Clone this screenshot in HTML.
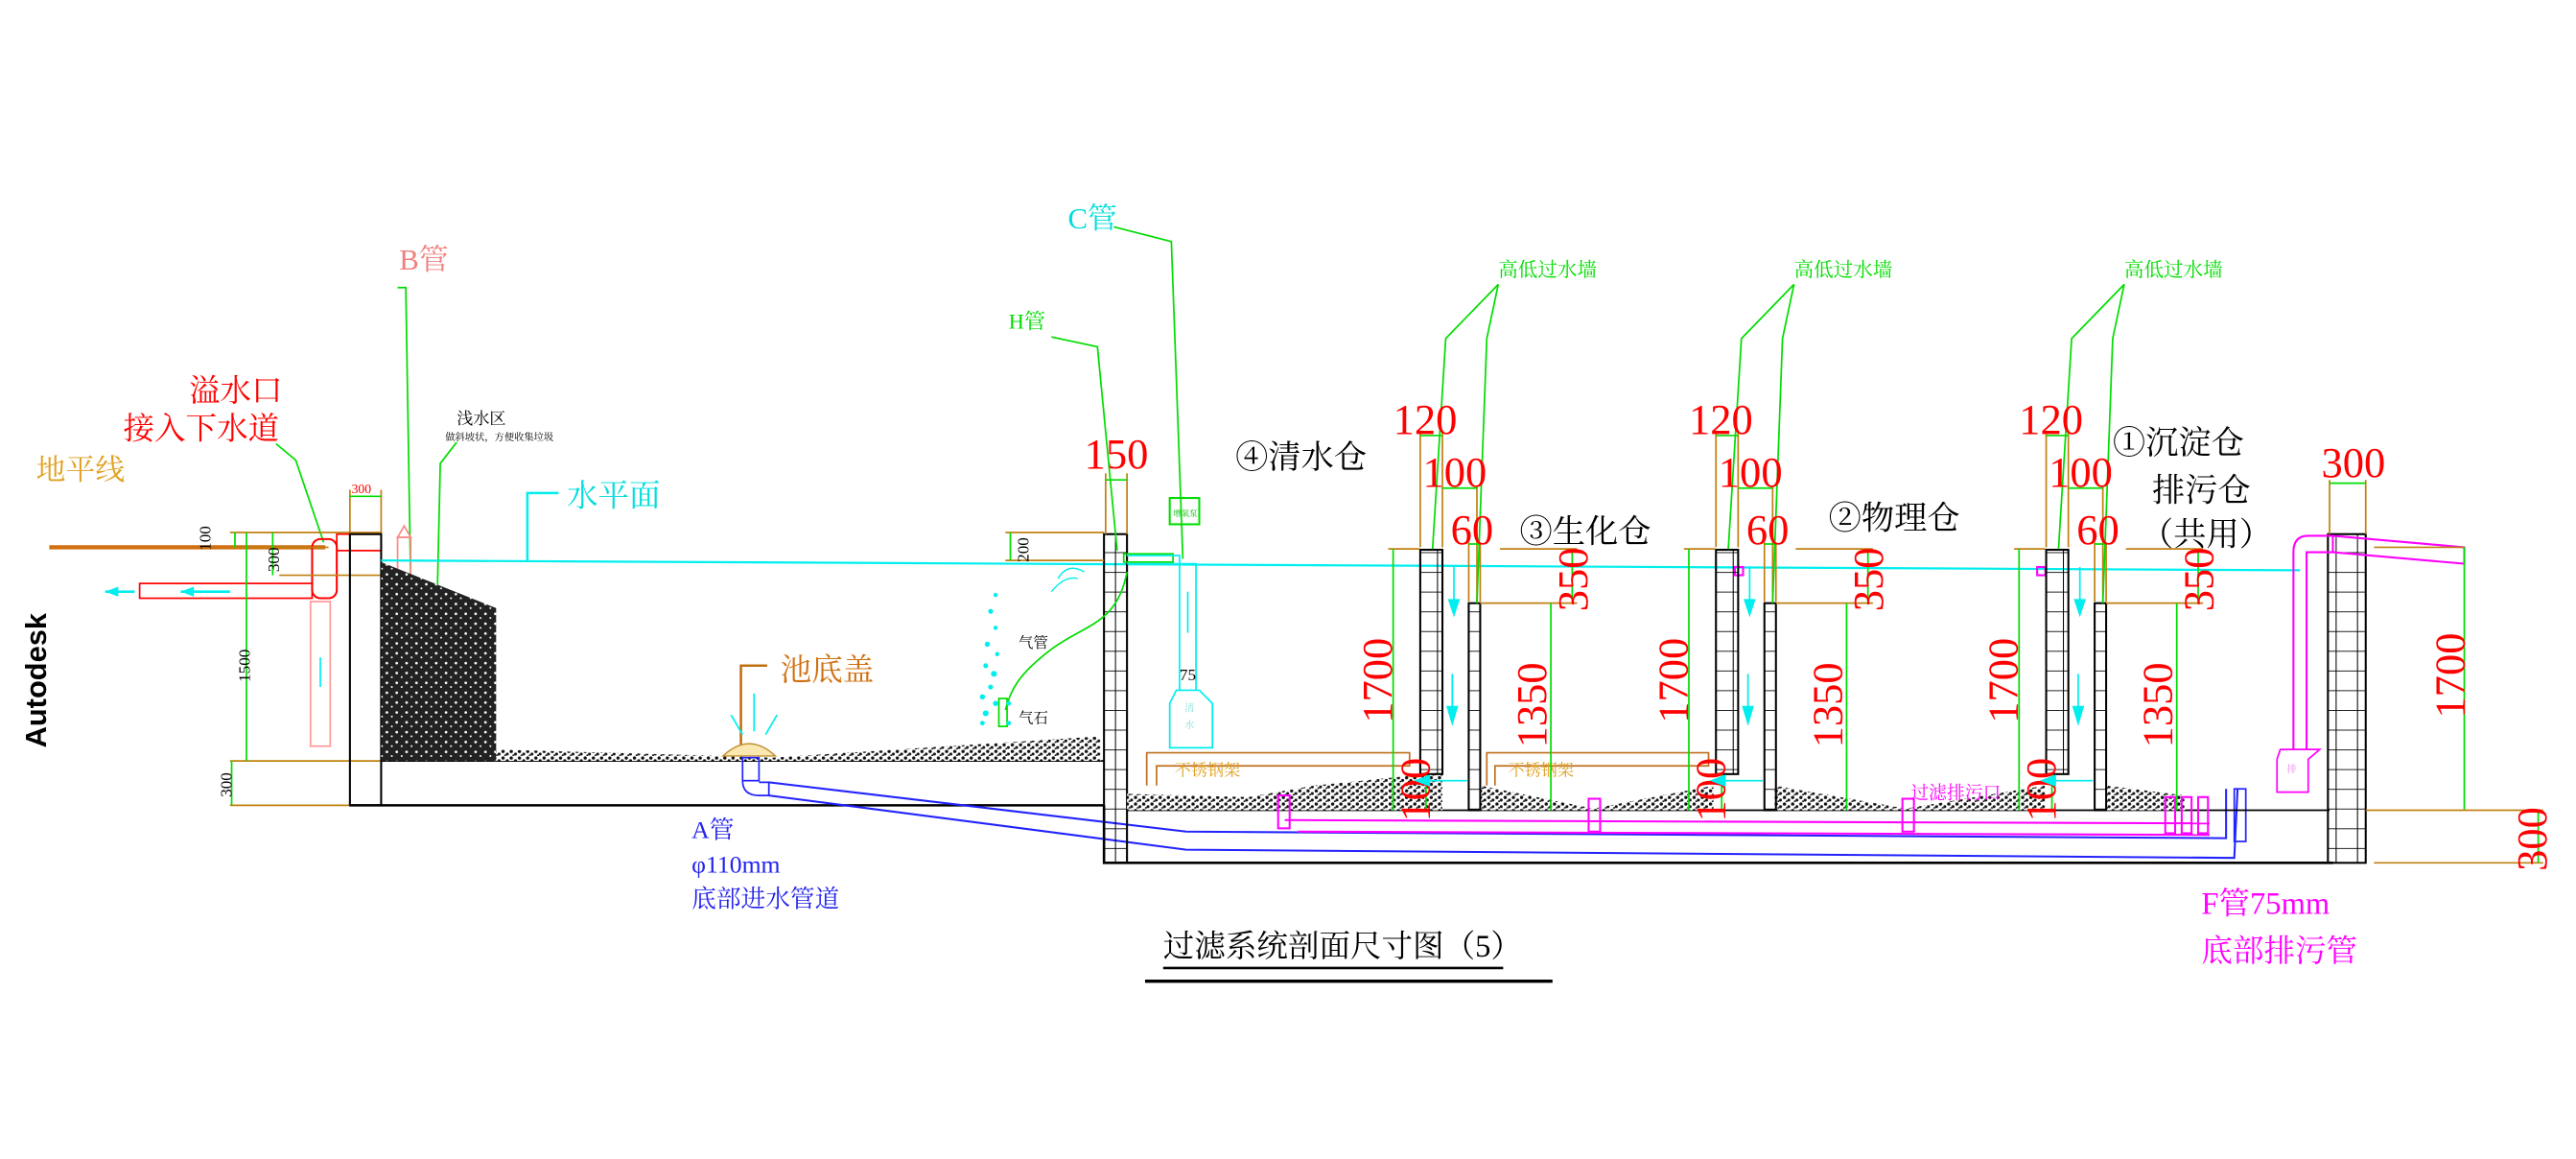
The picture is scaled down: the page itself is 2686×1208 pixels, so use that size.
<!DOCTYPE html>
<html><head><meta charset="utf-8"><style>
html,body{margin:0;padding:0;background:#fff;}
svg{display:block;}
text{font-family:"Liberation Serif","Noto Serif CJK SC",serif;}
.num{font-family:"Liberation Serif",serif;fill:#f00;font-size:26px;}
</style></head><body>
<svg width="2686" height="1208" viewBox="0 0 1568 705.2" preserveAspectRatio="none" xmlns="http://www.w3.org/2000/svg">
<defs>
<pattern id="grv" width="6" height="6" patternUnits="userSpaceOnUse">
<rect width="6" height="6" fill="#222"/><circle cx="1.5" cy="1.5" r="0.8" fill="#fff"/><circle cx="4.5" cy="4" r="0.6" fill="#fff"/>
</pattern>
<pattern id="grv2" width="5" height="4" patternUnits="userSpaceOnUse">
<rect width="5" height="4" fill="#fff"/><circle cx="1.2" cy="1.2" r="1" fill="#111"/><circle cx="3.8" cy="2.8" r="0.9" fill="#111"/><circle cx="2.5" cy="3.6" r="0.6" fill="#111"/>
</pattern>
<pattern id="brk" width="30" height="12" patternUnits="userSpaceOnUse">
<line x1="0" y1="0" x2="30" y2="0" stroke="#000" stroke-width="1"/>
</pattern>
</defs>

<text transform="translate(28,455) rotate(-90)" font-weight="bold" font-size="18" fill="#000" style="font-family:'Liberation Sans',sans-serif">Autodesk</text>

<text x="22" y="292" font-size="18" fill="#e0a020">地平线</text>
<line x1="30" y1="333" x2="198" y2="333" stroke="#d07010" stroke-width="2.5"/>
<text x="115" y="244" font-size="19" fill="#f00">溢水口</text>
<text x="75" y="267" font-size="19" fill="#f00">接入下水道</text>
<polyline points="168,270 180,280 197,330" fill="none" stroke="#0d0" stroke-width="1"/>

<rect x="85" y="355" width="105" height="9" fill="none" stroke="#f00" stroke-width="1"/>
<line x1="64" y1="360" x2="82" y2="360" stroke="#0ee" stroke-width="1.5"/><polygon points="64,360 72,357 72,363" fill="#0ee"/>
<line x1="110" y1="360" x2="140" y2="360" stroke="#0ee" stroke-width="1.5"/><polygon points="110,360 118,357 118,363" fill="#0ee"/>
<rect x="190" y="328" width="15" height="36" rx="5" fill="none" stroke="#f00" stroke-width="1.2"/>
<rect x="205" y="325" width="27" height="10" fill="none" stroke="#f00" stroke-width="1"/>
<rect x="189" y="366" width="12" height="88" fill="none" stroke="#f99" stroke-width="1"/>
<line x1="195" y1="400" x2="195" y2="418" stroke="#0ee"/>

<g stroke="#c08010" stroke-width="1">
<line x1="140" y1="324" x2="232" y2="324"/><line x1="140" y1="333" x2="200" y2="333"/>
<line x1="170" y1="350" x2="232" y2="350"/><line x1="140" y1="463" x2="232" y2="463"/>
<line x1="140" y1="490" x2="213" y2="490"/>
<line x1="213" y1="298" x2="213" y2="325"/><line x1="232" y1="298" x2="232" y2="325"/>
</g>
<g stroke="#0d0" stroke-width="1">
<line x1="150" y1="324" x2="150" y2="463"/><line x1="141" y1="463" x2="141" y2="490"/>
<line x1="166" y1="324" x2="166" y2="350"/><line x1="143" y1="324" x2="143" y2="333"/>
<line x1="213" y1="302" x2="232" y2="302"/>
</g>
<text transform="translate(128,335) rotate(-90)" font-size="10" fill="#000">100</text>
<text transform="translate(170,348) rotate(-90)" font-size="10" fill="#000">300</text>
<text transform="translate(152,415) rotate(-90)" font-size="10" fill="#000">1500</text>
<text transform="translate(141,485) rotate(-90)" font-size="10" fill="#000">300</text>
<text x="214" y="300" font-size="8" fill="#f00">300</text>

<text x="243" y="164" font-size="18" fill="#f08080">B管</text>
<polyline points="242,175 247,175 250,355" fill="none" stroke="#0d0" stroke-width="1"/>
<rect x="242" y="327" width="8" height="30" fill="none" stroke="#f88" stroke-width="1"/>
<polygon points="242,327 246,320 250,327" fill="none" stroke="#f88"/>
<text x="278" y="258" font-size="10" fill="#000">浅水区</text>
<text x="271" y="268" font-size="6" fill="#000">做斜坡状，方便收集垃圾</text>
<polyline points="278,269 268,282 266,370" fill="none" stroke="#0d0" stroke-width="1"/>

<rect x="213" y="325" width="19" height="165" fill="none" stroke="#000" stroke-width="1.2"/>
<line x1="232" y1="463" x2="672" y2="463" stroke="#000" stroke-width="1"/>
<line x1="213" y1="490" x2="672" y2="490" stroke="#000" stroke-width="1.5"/>
<polygon points="232,342 302,370 302,463 232,463" fill="url(#grv)"/>
<polygon points="302,456 440,460 470,461 670,448 670,463 302,463" fill="url(#grv2)"/>

<line x1="232" y1="341" x2="1400" y2="347" stroke="#0ee" stroke-width="1.3"/>
<text x="345" y="308" font-size="19" fill="#0dd">水平面</text>
<polyline points="340,300 321,300 321,341" fill="none" stroke="#0ee" stroke-width="1.5"/>

<text x="475" y="414" font-size="19" fill="#d07010">池底盖</text>
<polyline points="467,405 451,405 451,455" fill="none" stroke="#c07010" stroke-width="1.5"/>
<path d="M440,460 Q456,445 472,460 Z" fill="#fbe7b0" stroke="#c09030" stroke-width="0.8"/>
<line x1="459" y1="422" x2="459" y2="445" stroke="#0ee"/>
<line x1="445" y1="435" x2="452" y2="447" stroke="#0ee"/>
<line x1="473" y1="435" x2="466" y2="447" stroke="#0ee"/>

<rect x="452" y="461" width="10" height="14" fill="none" stroke="#22f"/>
<path d="M452,475 Q452,484 462,484 L468,484 L468,476 L462,476" fill="none" stroke="#22f"/>
<polyline points="468,476 722,506 1355,510 1355,480" fill="none" stroke="#22f" stroke-width="1.2"/>
<polyline points="468,484 722,517 1360,522 1362,480" fill="none" stroke="#22f" stroke-width="1.2"/>
<rect x="1360" y="480" width="7" height="32" fill="none" stroke="#22f"/>
<text x="421" y="510" font-size="15" fill="#22e">A管</text>
<text x="421" y="531" font-size="15" fill="#22e">φ110mm</text>
<text x="421" y="552" font-size="15" fill="#22e">底部进水管道</text>

<polyline points="672,490 672,525 1420,525" fill="none" stroke="#000" stroke-width="1.5"/>
<line x1="686" y1="493" x2="1418" y2="493" stroke="#000" stroke-width="1"/>
<rect x="672" y="325" width="14" height="200" fill="url(#brk)" stroke="#000" stroke-width="1.2"/>
<line x1="679" y1="325" x2="679" y2="525" stroke="#000" stroke-width="0.6"/>
<rect x="1417" y="325" width="23" height="200" fill="url(#brk)" stroke="#000" stroke-width="1.2"/>
<line x1="1422" y1="325" x2="1422" y2="525" stroke="#000" stroke-width="0.6"/>
<line x1="1435" y1="325" x2="1435" y2="525" stroke="#000" stroke-width="0.6"/>

<line x1="612" y1="324" x2="672" y2="324" stroke="#c08010"/>
<line x1="612" y1="341" x2="672" y2="341" stroke="#c08010"/>
<line x1="615" y1="324" x2="615" y2="341" stroke="#0d0"/>
<text transform="translate(626,342) rotate(-90)" font-size="10" fill="#000">200</text>
<text x="660" y="285" class="num">150</text>
<line x1="673" y1="288" x2="673" y2="325" stroke="#c08010"/><line x1="686" y1="288" x2="686" y2="325" stroke="#c08010"/>
<line x1="673" y1="292" x2="686" y2="292" stroke="#0d0"/>

<text x="614" y="200" font-size="13" fill="#0d0">H管</text>
<polyline points="640,205 668,211 680,335" fill="none" stroke="#0d0" stroke-width="1"/>
<path d="M686,348 C680,380 660,380 640,395 C620,410 615,420 612,432" fill="none" stroke="#0d0" stroke-width="1"/>
<rect x="684" y="337" width="30" height="5" fill="none" stroke="#0d0"/>
<rect x="608" y="425" width="5" height="17" fill="none" stroke="#0d0"/>
<g fill="#0ee">
<circle cx="606" cy="362" r="1.3"/><circle cx="603" cy="372" r="1.5"/><circle cx="606" cy="382" r="1.3"/><circle cx="601" cy="392" r="1.6"/><circle cx="607" cy="398" r="1.3"/><circle cx="600" cy="405" r="1.5"/><circle cx="605" cy="410" r="1.8"/><circle cx="603" cy="418" r="1.5"/><circle cx="598" cy="424" r="1.6"/><circle cx="606" cy="428" r="1.6"/><circle cx="600" cy="434" r="1.8"/><circle cx="614" cy="428" r="1.4"/><circle cx="614" cy="440" r="1.4"/><circle cx="598" cy="440" r="1.4"/>
</g>
<text x="620" y="394" font-size="9" fill="#000">气管</text>
<text x="620" y="440" font-size="9" fill="#000">气石</text>
<path d="M660,348 Q650,342 644,352 M656,352 Q648,350 640,360" fill="none" stroke="#0ee" stroke-width="0.8"/>

<text x="650" y="139" font-size="18" fill="#0dd">C管</text>
<polyline points="678,138 713,147 720,340" fill="none" stroke="#0d0" stroke-width="1"/>
<rect x="712" y="303" width="18" height="16" fill="none" stroke="#0d0" stroke-width="1.2"/>
<text x="714" y="314" font-size="5" fill="#0b0">增氧泵</text>
<polyline points="686,338 718,338 718,420" fill="none" stroke="#0ee"/>
<polyline points="686,343 728,343 728,420" fill="none" stroke="#0ee"/>
<line x1="723" y1="360" x2="723" y2="385" stroke="#0ee"/>
<text x="718" y="414" font-size="10" fill="#000">75</text>
<path d="M716,420 L730,420 L738,428 L738,455 L712,455 L712,428 Z" fill="none" stroke="#0ee"/>
<text x="721" y="433" font-size="6" fill="#8dd">清</text><text x="721" y="443" font-size="6" fill="#8dd">水</text>

<g fill="none" stroke="#c07020" stroke-width="1">
<polyline points="698,478 698,458 858,458 858,466 704,466 704,478"/>
<polyline points="905,478 905,458 1040,458 1040,466 910,466 910,478"/>
</g>
<text x="715" y="472" font-size="10" fill="#e0a020">不锈钢架</text>
<text x="918" y="472" font-size="10" fill="#e0a020">不锈钢架</text>

<polygon points="686,483 760,485 800,478 878,470 878,493 686,493" fill="url(#grv2)"/>
<polygon points="901,478 970,492 1043,478 1043,493 901,493" fill="url(#grv2)"/>
<polygon points="1080,478 1160,492 1245,478 1245,493 1080,493" fill="url(#grv2)"/>
<polygon points="1282,478 1330,484 1330,493 1282,493" fill="url(#grv2)"/>

<g fill="none" stroke="#f0f" stroke-width="1.2">
<line x1="782" y1="499" x2="1345" y2="501"/>
<line x1="790" y1="506" x2="1345" y2="508"/>
<rect x="778" y="484" width="7" height="20"/>
<rect x="967" y="486" width="7" height="20"/>
<rect x="1158" y="486" width="7" height="20"/>
<rect x="1318" y="485" width="6" height="22"/><rect x="1328" y="485" width="6" height="22"/><rect x="1338" y="485" width="6" height="22"/>
<rect x="1056" y="345" width="5" height="5"/><rect x="1240" y="345" width="5" height="5"/>
</g>
<text x="1163" y="486" font-size="11" fill="#f0f">过滤排污口</text>

<g id="grp">
<rect x="864.5" y="334.5" width="13.5" height="136.5" fill="url(#brk)" stroke="#000" stroke-width="1.2"/>
<line x1="875" y1="334.5" x2="875" y2="471" stroke="#000" stroke-width="0.6"/>
<rect x="894" y="367" width="7" height="126" fill="url(#brk)" stroke="#000" stroke-width="1.2"/>
<g stroke="#c08010" stroke-width="1">
<line x1="864.5" y1="262" x2="864.5" y2="333"/><line x1="878" y1="262" x2="878" y2="333"/>
<line x1="899" y1="296" x2="899" y2="366"/><line x1="894" y1="330" x2="894" y2="366"/><line x1="901" y1="330" x2="901" y2="366"/>
<line x1="845" y1="334" x2="864" y2="334"/><line x1="901" y1="367" x2="960" y2="367"/>
<line x1="913" y1="334" x2="960" y2="334"/>
</g>
<g stroke="#0d0" stroke-width="1" fill="none">
<line x1="864.5" y1="265" x2="878" y2="265"/><line x1="878" y1="297" x2="899" y2="297"/><line x1="894" y1="331" x2="901" y2="331"/>
<polyline points="912,173 880,206 872,334"/><polyline points="912,173 905,206 899,367"/>
<line x1="848" y1="334" x2="848" y2="493"/><line x1="957" y1="334" x2="957" y2="367"/><line x1="944" y1="367" x2="944" y2="493"/>
<line x1="868" y1="471" x2="868" y2="493"/>
</g>
<text x="912" y="168" font-size="12" fill="#0d0">高低过水墙</text>
<text x="848" y="264" class="num">120</text>
<text x="866" y="296" class="num">100</text>
<text x="883" y="331" class="num">60</text>
<text transform="translate(847,440) rotate(-90)" class="num">1700</text>
<text transform="translate(966,372) rotate(-90)" class="num">350</text>
<text transform="translate(941,455) rotate(-90)" class="num">1350</text>
<text transform="translate(870,500) rotate(-90)" class="num">100</text>
<g stroke="#0ee" fill="#0ee">
<line x1="885" y1="345" x2="885" y2="365"/><polygon points="882,365 888,365 885,374"/>
<line x1="884" y1="410" x2="884" y2="430"/><polygon points="881,430 887,430 884,440"/>
<line x1="870" y1="475" x2="893" y2="475"/><polygon points="870,472 870,478 862,475"/>
</g>
</g>
<use href="#grp" x="180"/>
<use href="#grp" x="381"/>

<text x="752" y="285" font-size="20" fill="#000">④清水仓</text>
<text x="925" y="330" font-size="20" fill="#000">③生化仓</text>
<text x="1113" y="322" font-size="20" fill="#000">②物理仓</text>
<text x="1286" y="276" font-size="20" fill="#000">①沉淀仓</text>
<text x="1310" y="305" font-size="20" fill="#000">排污仓</text>
<text x="1303" y="332" font-size="20" fill="#000">（共用）</text>

<text x="1413" y="290" class="num">300</text>
<line x1="1418" y1="292" x2="1418" y2="325" stroke="#c08010"/><line x1="1440" y1="292" x2="1440" y2="325" stroke="#c08010"/>
<line x1="1418" y1="294" x2="1440" y2="294" stroke="#0d0"/>
<polygon points="1420,326 1500,333 1500,343 1420,336" fill="none" stroke="#f0f" stroke-width="1.2"/>
<path d="M1420,326 L1405,326 Q1396,326 1396,336 L1396,456 M1420,336 L1404,336 L1404,456" fill="none" stroke="#f0f" stroke-width="1.2"/>
<path d="M1388,456 L1412,456 L1405,462 L1405,482 L1386,482 L1386,462 Z" fill="none" stroke="#f0f"/>
<text x="1392" y="470" font-size="6" fill="#f8f">排</text>
<line x1="1445" y1="333" x2="1500" y2="333" stroke="#c08010"/>
<line x1="1500" y1="333" x2="1500" y2="493" stroke="#0d0"/>
<text transform="translate(1500,437) rotate(-90)" class="num">1700</text>
<line x1="1440" y1="493" x2="1548" y2="493" stroke="#c08010"/>
<line x1="1445" y1="525" x2="1548" y2="525" stroke="#c08010"/>
<line x1="1545" y1="493" x2="1545" y2="525" stroke="#0d0"/>
<text transform="translate(1550,530) rotate(-90)" class="num">300</text>

<text x="1340" y="556" font-size="19" fill="#f0f">F管75mm</text>
<text x="1340" y="585" font-size="19" fill="#f0f">底部排污管</text>

<text x="708" y="582" font-size="19" fill="#000">过滤系统剖面尺寸图（5）</text>
<line x1="708" y1="589" x2="915" y2="589" stroke="#000" stroke-width="1.5"/>
<line x1="697" y1="597" x2="945" y2="597" stroke="#000" stroke-width="2"/>
</svg>
</body></html>
